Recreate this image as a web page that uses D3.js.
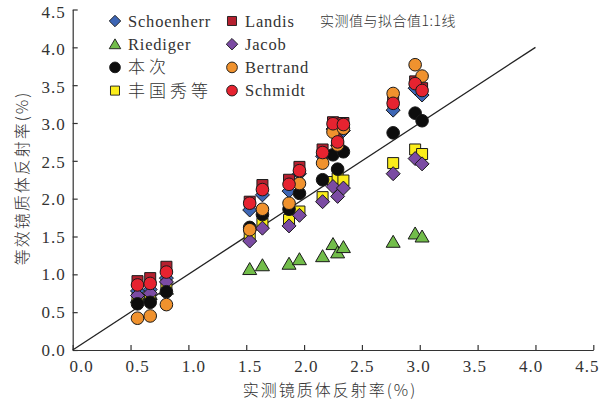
<!DOCTYPE html>
<html>
<head>
<meta charset="utf-8">
<script src="https://cdn.jsdelivr.net/npm/d3@7"></script>
<style>
  html, body { margin: 0; padding: 0; background: #fff; }
  svg { display: block; }
  text { fill: #333; }
  .lat { font-family: "Liberation Serif", "Times New Roman", serif; }
  .cjk { font-family: "Noto Sans CJK SC"; font-weight: 300; }
</style>
</head>
<body>
<svg id="chart" width="604" height="404"></svg>
<script>
// Measured vitrinite reflectance of each sample (%)
const measuredRo = [0.56, 0.67, 0.81, 1.53, 1.64, 1.87, 1.96, 2.16, 2.25, 2.29, 2.34, 2.77, 2.96, 3.02];

// Equivalent vitrinite reflectance from each conversion formula (%)
const landis     = [0.91, 0.95, 1.10, 1.96, 2.18, 2.25, 2.42, 2.65, 3.01, 2.80, 3.00, 3.28, 3.55, 3.46];
const schoenherr = [0.78, 0.80, 0.95, 1.85, 2.05, 2.10, 2.33, 2.56, 2.92, 2.70, 2.90, 3.17, 3.46, 3.37];
const riediger   = [0.70, 0.74, 0.81, 1.07, 1.12, 1.14, 1.20, 1.24, 1.40, 1.29, 1.36, 1.43, 1.54, 1.50];
const fengGuoxiu = [0.68, 0.70, 0.85, 1.50, 1.67, 1.72, 1.83, 2.02, 2.22, 2.27, 2.24, 2.47, 2.65, 2.59];
const jacob      = [0.72, 0.75, 0.90, 1.44, 1.61, 1.64, 1.78, 1.96, 2.16, 2.03, 2.14, 2.33, 2.53, 2.46];
const thisStudy  = [0.61, 0.63, 0.77, 1.62, 1.79, 1.86, 2.07, 2.25, 2.58, 2.39, 2.62, 2.87, 3.13, 3.03];
const bertrand   = [0.42, 0.45, 0.60, 1.59, 1.86, 1.94, 2.20, 2.47, 2.88, 2.71, 2.93, 3.39, 3.77, 3.62];
const schmidt    = [0.86, 0.88, 1.03, 1.94, 2.12, 2.19, 2.37, 2.61, 2.99, 2.75, 2.98, 3.26, 3.52, 3.43];

// Axis ticks and 1:1 reference line
const tickValues = [0, 0.5, 1.0, 1.5, 2.0, 2.5, 3.0, 3.5, 4.0, 4.5];
const oneToOne = [0, 4.0];

const seriesNames  = ["Schoenherr", "Landis", "Riediger", "Jacob", "本次", "Bertrand", "丰国秀等", "Schmidt"];
const seriesValues = [schoenherr, landis, riediger, jacob, thisStudy, bertrand, fengGuoxiu, schmidt];
const seriesShape  = ["diamond", "square", "triangle", "diamond", "circle", "circle", "square", "circle"];
const seriesColor  = ["#3d66b5", "#b5202f", "#72bd4a", "#7b4ba3", "#0d0d0d", "#f0922e", "#fbed1a", "#e62330"];
// order the marks are painted in (later ones on top)
const paintOrder = ["Landis", "Schoenherr", "Riediger", "丰国秀等", "Jacob", "本次", "Bertrand", "Schmidt"];

const svg = d3.select("#chart");
const x0 = 72.7, x1 = 593.3, y0 = 350, y1 = 9.5;
const x = d3.scaleLinear().domain([0, 4.5]).range([x0, x1]);
const y = d3.scaleLinear().domain([0, 4.5]).range([y0, y1]);

function shapePath(shape) {
  if (shape === "circle") return d3.symbol(d3.symbolCircle, 125)();
  if (shape === "square") return "M-5.5,-5.5H5.5V5.5H-5.5Z";
  if (shape === "diamond") return "M0,-7L7,0L0,7L-7,0Z";
  if (shape === "triangle") return "M0,-6.5L7,5.5H-7Z";
}

// axes
const fmt = d3.format(".1f");
const xAxis = svg.append("g").attr("transform", `translate(0,${y0})`)
  .call(d3.axisBottom(x).tickValues(tickValues).tickFormat(fmt).tickSizeInner(-5).tickSizeOuter(0).tickPadding(10));
const yAxis = svg.append("g").attr("transform", `translate(${x0},0)`)
  .call(d3.axisLeft(y).tickValues(tickValues).tickFormat(fmt).tickSizeInner(-5).tickSizeOuter(0).tickPadding(7));
[xAxis, yAxis].forEach(g => {
  g.attr("font-family", null).attr("font-size", null);
  g.select(".domain").attr("stroke", "#333").attr("stroke-width", 1.2);
  g.selectAll(".tick line").attr("stroke", "#333").attr("stroke-width", 1.2);
  g.selectAll(".tick text").attr("class", "lat").attr("font-size", 17).attr("fill", "#333")
    .style("letter-spacing", "1px");
});
// labels sit a little inward of the tick marks toward the ends of the axis
xAxis.selectAll(".tick text").attr("dy", "0.71em").attr("dx", d => 8.3 - 3.3 * d);
yAxis.selectAll(".tick text").attr("dy", d => 5 + 0.6 * d);

// 1:1 line
svg.append("line")
  .attr("x1", x(oneToOne[0])).attr("y1", y(oneToOne[0]))
  .attr("x2", x(oneToOne[1])).attr("y2", y(oneToOne[1]))
  .attr("stroke", "#222").attr("stroke-width", 1.3);

// data points
paintOrder.forEach(name => {
  const i = seriesNames.indexOf(name);
  svg.append("g").selectAll("path")
    .data(seriesValues[i].map((v, k) => [measuredRo[k], v]))
    .join("path")
    .attr("d", shapePath(seriesShape[i]))
    .attr("transform", d => `translate(${x(d[0])},${y(d[1])})`)
    .attr("fill", seriesColor[i])
    .attr("stroke", "#1a1a1a")
    .attr("stroke-width", 1);
});

// legend (two columns)
const isCJK = s => /[\u4e00-\u9fff]/.test(s);
const legend = svg.append("g");
seriesNames.forEach((name, i) => {
  const col = i % 2, row = Math.floor(i / 2);
  const lx = col === 0 ? 115 : 232;
  const ly = 21 + row * 23.2;
  const scale = seriesShape[i] === "circle" ? 0.85 : 0.82;
  legend.append("path")
    .attr("d", shapePath(seriesShape[i]))
    .attr("transform", `translate(${lx},${ly}) scale(${scale})`)
    .attr("fill", seriesColor[i]).attr("stroke", "#1a1a1a").attr("stroke-width", 1.1);
  legend.append("text")
    .attr("class", isCJK(name) ? "cjk" : "lat")
    .attr("x", lx + 13).attr("y", ly).attr("dy", "0.35em")
    .attr("font-size", isCJK(name) ? 17 : 16.5).style("letter-spacing", isCJK(name) ? "4px" : "0.8px")
    .text(name);
});

// annotation
svg.append("text").attr("class", "cjk").attr("x", 320).attr("y", 21).attr("dy", "0.35em")
  .attr("font-size", 14).style("letter-spacing", "0.5px")
  .text("实测值与拟合值1:1线");

// axis titles
svg.append("text").attr("class", "cjk").attr("x", 330).attr("y", 396).attr("text-anchor", "middle")
  .attr("font-size", 16).style("letter-spacing", "2px")
  .text("实测镜质体反射率(%)");
svg.append("text").attr("class", "cjk").attr("transform", "translate(22,178) rotate(-90)")
  .attr("text-anchor", "middle").attr("dy", "0.35em")
  .attr("font-size", 16).style("letter-spacing", "2px")
  .text("等效镜质体反射率(%)");
</script>
</body>
</html>
